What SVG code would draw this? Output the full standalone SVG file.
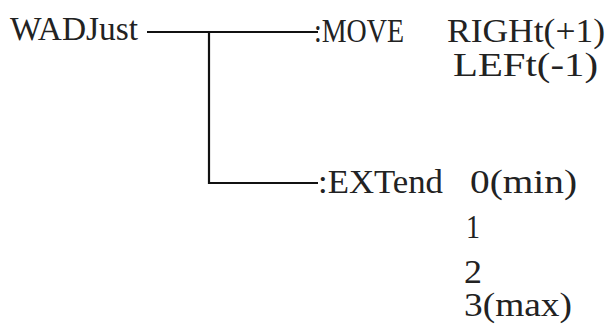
<svg xmlns="http://www.w3.org/2000/svg" width="611" height="325" viewBox="0 0 611 325">
<style>
text{font-family:"Liberation Serif","Times New Roman",serif;font-size:33px;fill:#222;}
.ln{stroke:#111;stroke-width:2.2;fill:none;}
</style>
<rect width="611" height="325" fill="#fff"/>
<g id="connectors">
<path class="ln" d="M147,32 H318"/>
<path class="ln" d="M209,32 V183 H318"/>
</g>
<g id="root"><text x="10" y="40" textLength="128" lengthAdjust="spacingAndGlyphs">WADJust</text></g>
<g id="move">
<text x="314" y="42" textLength="90" lengthAdjust="spacingAndGlyphs">:MOVE</text>
<text x="447" y="42" textLength="158" lengthAdjust="spacingAndGlyphs">RIGHt(+1)</text>
<text x="453" y="76" textLength="145" lengthAdjust="spacingAndGlyphs">LEFt(-1)</text>
</g>
<g id="extend">
<text x="318" y="193" textLength="125" lengthAdjust="spacingAndGlyphs">:EXTend</text>
<text x="470" y="193" textLength="107" lengthAdjust="spacingAndGlyphs">0(min)</text>
<text x="466" y="238" textLength="14" lengthAdjust="spacingAndGlyphs">1</text>
<text x="464" y="283" textLength="18" lengthAdjust="spacingAndGlyphs">2</text>
<text x="464" y="316" textLength="108" lengthAdjust="spacingAndGlyphs">3(max)</text>
</g>
</svg>
